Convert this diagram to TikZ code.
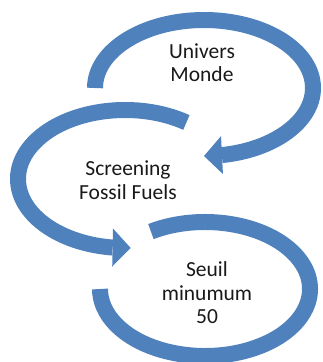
\documentclass[tikz,border=0pt]{standalone}
\usepackage{fontspec}
\setmainfont{Carlito}
\usetikzlibrary{arrows.meta,bending,positioning,calc}
\definecolor{CycleBlue}{HTML}{4F81BD}

\begin{document}
\begin{tikzpicture}[
          x=1pt, y=1pt,
          ring/.style={draw=CycleBlue, line width=16pt},
          ringarrow/.style={ring, -{Triangle[width=38pt, length=18pt, line width=0pt]}},
          looptext/.style={font=\fontsize{21.5}{23.5}\selectfont, align=center, text=black!90}
        ]
          \useasboundingbox (0,0) rectangle (323,362);

          % Centres of the three loops
          \coordinate (univc) at (204,274);
          \coordinate (screenc) at (125,183);
          \coordinate (seuilc) at (205,73);

          % Loop 1: Univers Monde
          \draw[ringarrow] ($(univc)+(180:109pt and 68pt)$)
            arc[start angle=180, end angle=-90, x radius=109pt, y radius=68pt];

          % Loop 2: Screening
          \draw[ringarrow] ($(screenc)+(55:107pt and 69pt)$)
            arc[start angle=55, end angle=273, x radius=107pt, y radius=69pt];

          % Loop 3: Seuil
          \draw[ring] ($(seuilc)+(121:105pt and 67pt)$)
            arc[start angle=121, end angle=-180, x radius=105pt, y radius=67pt];

          % Texts
          \node[looptext] (univers) at (202,299.5) {Univers\\Monde};
          \node[looptext] (screening) at (128,182) {Screening\\Fossil Fuels};
          \node[looptext] (seuil) at (207,69) {Seuil\\minumum\\50};

        \end{tikzpicture}
\end{document}
